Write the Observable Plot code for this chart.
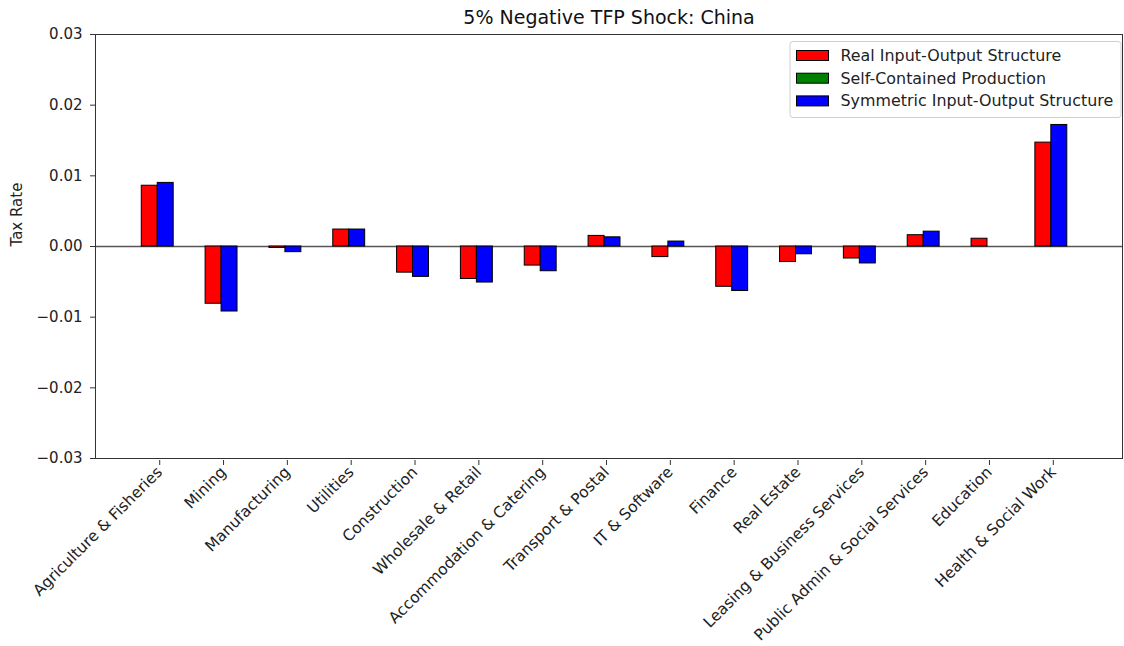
<!DOCTYPE html>
<html>
<head>
<meta charset="utf-8">
<script src="https://cdn.jsdelivr.net/npm/d3@7"></script>
<script src="https://cdn.jsdelivr.net/npm/@observablehq/plot@0.6"></script>
<style>
  html, body { margin: 0; padding: 0; background: #fff; }
  #chart { width: 1124px; height: 646px; }
</style>
</head>
<body>
<div id="chart"></div>
<script>
// Sectors (x axis)
const sectors = [
  "Agriculture & Fisheries", "Mining", "Manufacturing", "Utilities", "Construction",
  "Wholesale & Retail", "Accommodation & Catering", "Transport & Postal", "IT & Software",
  "Finance", "Real Estate", "Leasing & Business Services", "Public Admin & Social Services",
  "Education", "Health & Social Work"
];

// Tax rate response per sector under each production structure
const realIO = [0.0086, -0.0081, -0.0002, 0.0024, -0.0037, -0.0046, -0.0027, 0.0015, -0.0015,
                -0.0057, -0.0022, -0.0017, 0.0016, 0.0011, 0.0147];
const selfContained = [0, 0, 0, 0, 0, 0, 0, 0, 0, 0, 0, 0, 0, 0, 0];
const symmetricIO = [0.0090, -0.0092, -0.0008, 0.0024, -0.0043, -0.0051, -0.0035, 0.0013, 0.0007,
                     -0.0063, -0.0011, -0.0024, 0.0021, 0.0000, 0.0172];

const seriesNames = ["Real Input-Output Structure", "Self-Contained Production", "Symmetric Input-Output Structure"];
const seriesColors = ["red", "green", "blue"];
const yTicks = [-0.03, -0.02, -0.01, 0, 0.01, 0.02, 0.03];

// Bar layout within a group (in sector-index units)
const barWidth = 0.25;
const seriesOffset = {
  "Real Input-Output Structure": -0.25,
  "Symmetric Input-Output Structure": 0,
  "Self-Contained Production": 0.25
};

const rows = [];
[realIO, selfContained, symmetricIO].forEach((vals, s) => {
  vals.forEach((v, i) => rows.push({i, series: seriesNames[s], value: v}));
});

const font = "DejaVu Sans, sans-serif";
const fmt = d => (d < 0 ? "\u2212" : "") + Math.abs(d).toFixed(2);

const plot = Plot.plot({
  width: 1124,
  height: 646,
  marginTop: 34,
  marginBottom: 188,
  marginLeft: 95,
  marginRight: 2,
  style: {fontFamily: font, fontSize: "15px", color: "#222", background: "#fff"},
  x: {type: "linear", domain: [-1.1, 14.99]},
  y: {domain: [-0.03, 0.03]},
  color: {domain: seriesNames, range: seriesColors},
  marks: [
    Plot.ruleY([0], {stroke: "#555", strokeWidth: 1.4}),
    Plot.rect(rows, {
      x1: d => d.i + seriesOffset[d.series] - barWidth / 2,
      x2: d => d.i + seriesOffset[d.series] + barWidth / 2,
      y1: 0,
      y2: "value",
      fill: "series",
      stroke: "black",
      strokeWidth: 1,
      inset: 0
    }),
    Plot.frame({stroke: "#333", strokeWidth: 1}),
    Plot.axisY({
      ticks: yTicks, tickFormat: fmt, tickSize: 5, tickPadding: 8,
      stroke: "#333", label: null, fontSize: "15px"
    }),
    Plot.text(["Tax Rate"], {
      frameAnchor: "left", dx: -78, rotate: -90, fontSize: "15px", fill: "#222"
    }),
    Plot.axisX({
      ticks: d3.range(sectors.length), tickFormat: i => sectors[i],
      tickSize: 5, tickPadding: 4, tickRotate: -45, stroke: "#333",
      label: null, fontSize: "15.5px", dx: -6, dy: 2
    }),
    Plot.text(["5% Negative TFP Shock: China"], {
      frameAnchor: "top", dy: -17, lineAnchor: "middle", fontSize: "19px", fill: "#111"
    })
  ]
});

// Legend box in the upper-right corner of the plotting area
const svg = d3.select(plot);
const lg = svg.append("g").attr("transform", "translate(790,41.5)")
  .style("font-family", font).attr("text-anchor", "start");
lg.append("rect")
  .attr("width", 331).attr("height", 76).attr("rx", 3)
  .attr("fill", "white").attr("fill-opacity", 0.85)
  .attr("stroke", "#d0d0d0");
seriesNames.forEach((name, k) => {
  const cy = 14 + k * 22.7;
  lg.append("rect")
    .attr("x", 6.5).attr("y", cy - 5).attr("width", 32).attr("height", 10)
    .attr("fill", seriesColors[k]).attr("stroke", "black").attr("stroke-width", 1);
  lg.append("text")
    .attr("x", 50.5).attr("y", cy).attr("dy", "0.35em")
    .attr("text-anchor", "start")
    .attr("font-size", "15.9px").attr("fill", "#222")
    .text(name);
});

document.getElementById("chart").appendChild(plot);
</script>
</body>
</html>
